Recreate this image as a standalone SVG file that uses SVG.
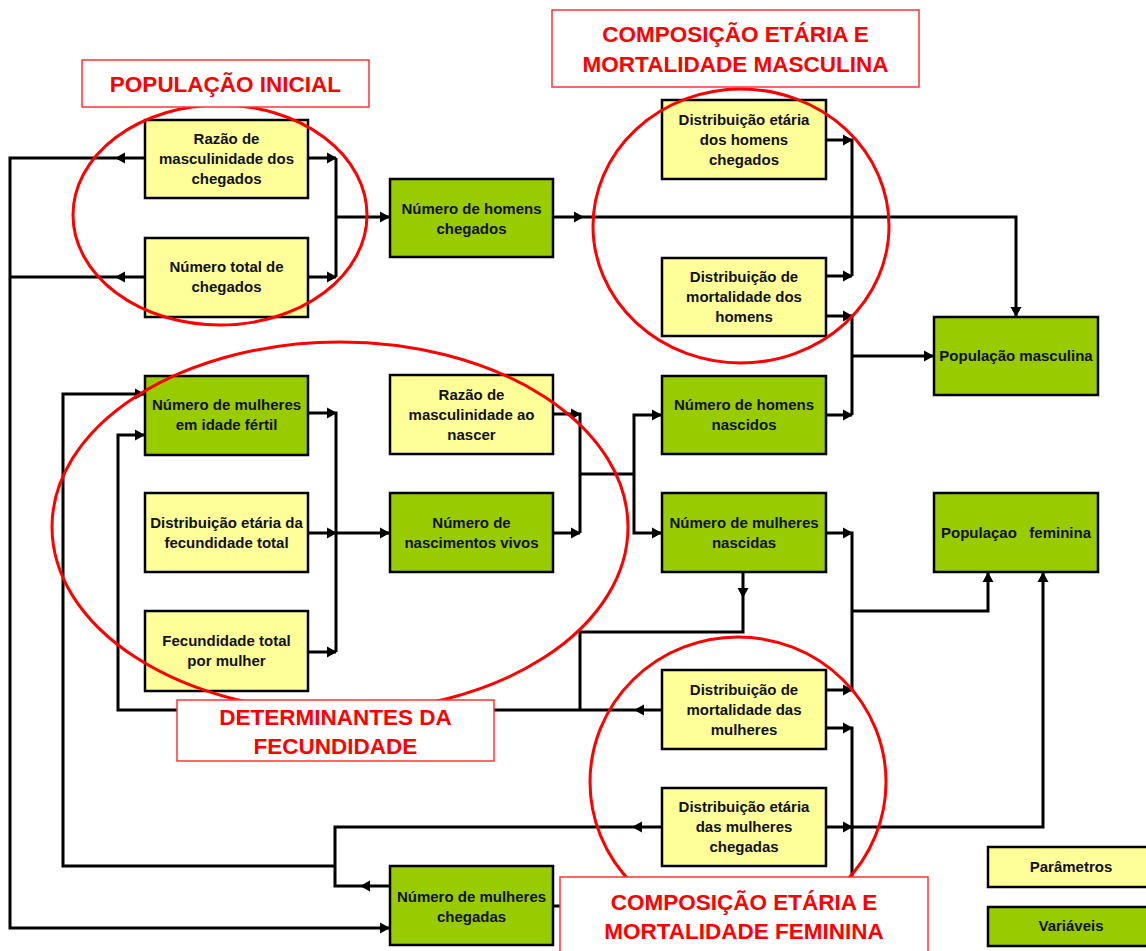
<svg xmlns="http://www.w3.org/2000/svg" xmlns:xlink="http://www.w3.org/1999/xlink" width="1146" height="951" viewBox="0 0 1146 951">
<style>
.ln{fill:none;stroke:#000;stroke-width:3}
.par{fill:#FFFF99;stroke:#000;stroke-width:2.5}
.var{fill:#99CC00;stroke:#000;stroke-width:2.5}
.t{font-family:"Liberation Sans",Arial,sans-serif;font-weight:bold;font-size:15px;fill:#111;text-anchor:middle}
.ell{fill:none;stroke:#FF0000;stroke-width:3}
.tb{fill:#fff;stroke:#FF3333;stroke-width:1.5}
.tt{font-family:"Liberation Sans",Arial,sans-serif;font-weight:bold;font-size:22.5px;fill:#FF0000;text-anchor:middle}
</style>
<defs>
<path id="ah" d="M0,0 L-10,-5.5 L-10,5.5 Z" fill="#000"/>
</defs>
<rect width="1146" height="951" fill="#fff"/>
<g id="connectors">
<path class="ln" d="M308,158 H336 M308,277 H336 M336,158 V277 M336,217 H390"/>
<path class="ln" d="M145,158 H10 V928 H390 M145,277 H10"/>
<path class="ln" d="M553,217 H1016 V317"/>
<path class="ln" d="M826,140 H852 V276 M826,276 H852 M826,316 H852 V415 M826,415 H852 M852,356 H934"/>
<path class="ln" d="M308,413 H336 V652 M308,533 H390 M308,652 H336"/>
<path class="ln" d="M553,414 H580 V533 M553,533 H580 M580,474 H634 M662,415 H634 V533 H662"/>
<path class="ln" d="M826,533 H852 V690 M852,611 H988 V572"/>
<path class="ln" d="M743,572 V632 H580 V710"/>
<path class="ln" d="M662,710 H118 V435 H145"/>
<path class="ln" d="M826,690 H852 M826,728 H852 V906 H553"/>
<path class="ln" d="M662,827 H335 V886 H390 M335,866 H63 V394 H145"/>
<path class="ln" d="M826,827 H1043 V572"/>
<use xlink:href="#ah" transform="translate(337,158)"/>
<use xlink:href="#ah" transform="translate(337,277)"/>
<use xlink:href="#ah" transform="translate(390,217)"/>
<use xlink:href="#ah" transform="translate(115,158) rotate(180)"/>
<use xlink:href="#ah" transform="translate(115,277) rotate(180)"/>
<use xlink:href="#ah" transform="translate(390,928)"/>
<use xlink:href="#ah" transform="translate(584,217)"/>
<use xlink:href="#ah" transform="translate(1016,317) rotate(90)"/>
<use xlink:href="#ah" transform="translate(853,140)"/>
<use xlink:href="#ah" transform="translate(853,276)"/>
<use xlink:href="#ah" transform="translate(853,316)"/>
<use xlink:href="#ah" transform="translate(853,415)"/>
<use xlink:href="#ah" transform="translate(934,356)"/>
<use xlink:href="#ah" transform="translate(337,413)"/>
<use xlink:href="#ah" transform="translate(337,533)"/>
<use xlink:href="#ah" transform="translate(390,533)"/>
<use xlink:href="#ah" transform="translate(337,652)"/>
<use xlink:href="#ah" transform="translate(581,414)"/>
<use xlink:href="#ah" transform="translate(581,533)"/>
<use xlink:href="#ah" transform="translate(662,415)"/>
<use xlink:href="#ah" transform="translate(662,533)"/>
<use xlink:href="#ah" transform="translate(853,533)"/>
<use xlink:href="#ah" transform="translate(988,572) rotate(-90)"/>
<use xlink:href="#ah" transform="translate(743,598) rotate(90)"/>
<use xlink:href="#ah" transform="translate(634,710) rotate(180)"/>
<use xlink:href="#ah" transform="translate(145,435)"/>
<use xlink:href="#ah" transform="translate(145,394)"/>
<use xlink:href="#ah" transform="translate(853,690)"/>
<use xlink:href="#ah" transform="translate(853,728)"/>
<use xlink:href="#ah" transform="translate(632,827) rotate(180)"/>
<use xlink:href="#ah" transform="translate(853,827)"/>
<use xlink:href="#ah" transform="translate(1043,572) rotate(-90)"/>
<use xlink:href="#ah" transform="translate(360,886) rotate(180)"/>
</g>
<g id="n-razao-chegados"><rect class="par" x="145" y="120" width="163" height="78"/><text class="t" x="226.5" y="144">Razão de<tspan x="226.5" dy="20">masculinidade dos</tspan><tspan x="226.5" dy="20">chegados</tspan></text></g>
<g id="n-total-chegados"><rect class="par" x="145" y="238" width="163" height="79"/><text class="t" x="226.5" y="272">Número total de<tspan x="226.5" dy="20">chegados</tspan></text></g>
<g id="n-homens-chegados"><rect class="var" x="390" y="179" width="163" height="78"/><text class="t" x="471.5" y="214">Número de homens<tspan x="471.5" dy="20">chegados</tspan></text></g>
<g id="n-etaria-homens"><rect class="par" x="662" y="100" width="164" height="79"/><text class="t" x="744" y="125">Distribuição etária<tspan x="744" dy="20">dos homens</tspan><tspan x="744" dy="20">chegados</tspan></text></g>
<g id="n-mort-homens"><rect class="par" x="662" y="258" width="164" height="78"/><text class="t" x="744" y="282">Distribuição de<tspan x="744" dy="20">mortalidade dos</tspan><tspan x="744" dy="20">homens</tspan></text></g>
<g id="n-pop-masc"><rect class="var" x="934" y="317" width="164" height="78"/><text class="t" x="1016" y="361">População masculina</text></g>
<g id="n-mulheres-fertil"><rect class="var" x="145" y="376" width="163" height="79"/><text class="t" x="226.5" y="410">Número de mulheres<tspan x="226.5" dy="20">em idade fértil</tspan></text></g>
<g id="n-etaria-fec"><rect class="par" x="145" y="493" width="163" height="79"/><text class="t" x="226.5" y="528">Distribuição etária da<tspan x="226.5" dy="20">fecundidade total</tspan></text></g>
<g id="n-fec-total"><rect class="par" x="145" y="611" width="163" height="80"/><text class="t" x="226.5" y="646">Fecundidade total<tspan x="226.5" dy="20">por mulher</tspan></text></g>
<g id="n-razao-nascer"><rect class="par" x="390" y="375" width="163" height="79"/><text class="t" x="471.5" y="400">Razão de<tspan x="471.5" dy="20">masculinidade ao</tspan><tspan x="471.5" dy="20">nascer</tspan></text></g>
<g id="n-nascimentos"><rect class="var" x="390" y="493" width="163" height="79"/><text class="t" x="471.5" y="528">Número de<tspan x="471.5" dy="20">nascimentos vivos</tspan></text></g>
<g id="n-homens-nascidos"><rect class="var" x="662" y="376" width="164" height="78"/><text class="t" x="744" y="410">Número de homens<tspan x="744" dy="20">nascidos</tspan></text></g>
<g id="n-mulheres-nascidas"><rect class="var" x="662" y="493" width="164" height="79"/><text class="t" x="744" y="528">Número de mulheres<tspan x="744" dy="20">nascidas</tspan></text></g>
<g id="n-pop-fem"><rect class="var" x="934" y="493" width="164" height="79"/><text class="t" x="1016" y="538" xml:space="preserve">Populaçao   feminina</text></g>
<g id="n-mort-mulheres"><rect class="par" x="662" y="670" width="164" height="79"/><text class="t" x="744" y="695">Distribuição de<tspan x="744" dy="20">mortalidade das</tspan><tspan x="744" dy="20">mulheres</tspan></text></g>
<g id="n-etaria-mulheres"><rect class="par" x="662" y="788" width="164" height="78"/><text class="t" x="744" y="812">Distribuição etária<tspan x="744" dy="20">das mulheres</tspan><tspan x="744" dy="20">chegadas</tspan></text></g>
<g id="n-mulheres-chegadas"><rect class="var" x="390" y="866" width="163" height="79"/><text class="t" x="471.5" y="902">Número de mulheres<tspan x="471.5" dy="20">chegadas</tspan></text></g>
<g id="ellipses">
<ellipse class="ell" cx="220" cy="215" rx="147" ry="110"/>
<ellipse class="ell" cx="741" cy="226" rx="148" ry="137"/>
<ellipse class="ell" cx="340" cy="527" rx="288" ry="185"/>
<ellipse class="ell" cx="738" cy="782" rx="148" ry="145"/>
</g>
<g id="title-pop-inicial"><rect class="tb" x="82" y="60" width="287" height="47"/><text class="tt" x="225.5" y="92">POPULAÇÃO INICIAL</text></g>
<g id="title-masc"><rect class="tb" x="552" y="10" width="367" height="77"/><text class="tt" x="735.5" y="42">COMPOSIÇÃO ETÁRIA E<tspan x="735.5" dy="30">MORTALIDADE MASCULINA</tspan></text></g>
<g id="title-fec"><rect class="tb" x="177" y="700" width="317" height="61"/><text class="tt" x="335.5" y="725">DETERMINANTES DA<tspan x="335.5" dy="29">FECUNDIDADE</tspan></text></g>
<g id="title-fem"><rect class="tb" x="560" y="877" width="368" height="80"/><text class="tt" x="744" y="910">COMPOSIÇÃO ETÁRIA E<tspan x="744" dy="29">MORTALIDADE FEMININA</tspan></text></g>
<g id="legend-param"><rect class="par" x="988" y="847" width="170" height="40"/><text class="t" x="1071" y="872">Parâmetros</text></g>
<g id="legend-var"><rect class="var" x="988" y="907" width="170" height="39"/><text class="t" x="1071" y="931">Variáveis</text></g>
</svg>
